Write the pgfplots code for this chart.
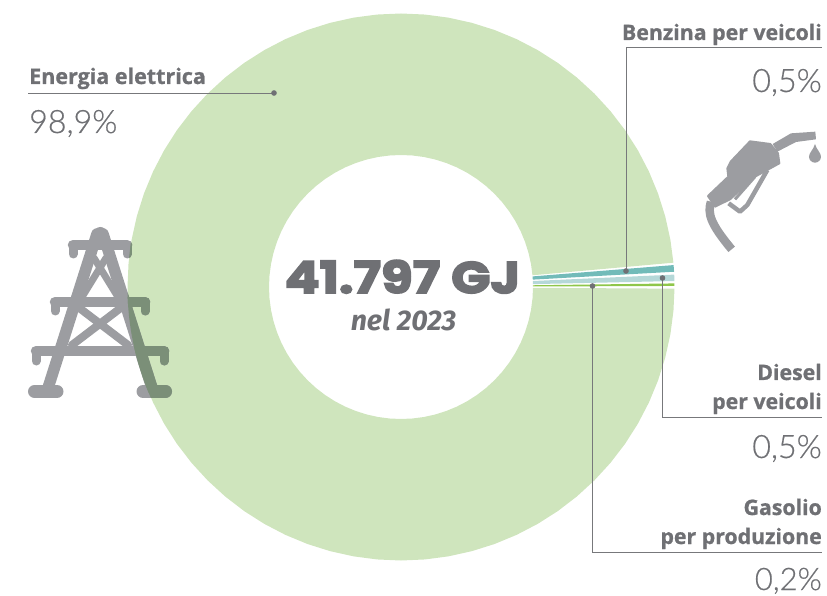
\documentclass[border=0pt]{standalone}
\usepackage{pgfplots}
\usepackage{fontspec}
\pgfplotsset{compat=1.18}
\setmainfont{Open Sans}
\newfontfamily\labf[FakeBold=0.9]{Open Sans}
\newfontfamily\heavy[FakeBold=4,FakeStretch=1.17]{Poppins}
\newfontfamily\nelf{Fira Sans}
\newfontfamily\lightf[UprightFont=* Light,FakeBold=0.5]{Lato}
\definecolor{txt}{HTML}{6F7074}
\definecolor{lin}{HTML}{77787B}
\definecolor{donut}{HTML}{CFE5BD}
\definecolor{teal}{HTML}{72BBB9}
\definecolor{pale}{HTML}{B5D8D8}
\definecolor{lime}{HTML}{8FC64A}
\definecolor{icon}{HTML}{9C9DA1}
\definecolor{iconov}{HTML}{7B8F78}
\newcommand{\towerpaths}[1]{%
  \begin{scope}[draw=#1,fill=#1,line cap=round,line join=round]
    \draw[line width=11.5pt] (97,234)--(48,388);
    \draw[line width=11.5pt] (103,234)--(152,388);
    \draw[line width=10.5pt] (73,245)--(127,245);
    \draw[line width=10.5pt] (55,302)--(145,302);
    \draw[line width=10.5pt] (36,351)--(164,351);
    \draw[line width=9pt] (73,245)--(73,254);
    \draw[line width=9pt] (127,245)--(127,254);
    \draw[line width=9pt] (55,302)--(55,311);
    \draw[line width=9pt] (145,302)--(145,311);
    \draw[line width=9pt] (36,351)--(36,361);
    \draw[line width=9pt] (164,351)--(164,361);
    \draw[line width=13pt] (34.500,391.5)--(57,391.5);
    \draw[line width=13pt] (143,391.5)--(165.500,391.5);
    \draw[line width=13pt] (100,233.5)--(100,234);
    \draw[line width=7pt] (94,258)--(118,297);
    \draw[line width=7pt] (106,258)--(82,297);
    \draw[line width=8pt] (78,307)--(128,345);
    \draw[line width=8pt] (122,307)--(72,345);
  \end{scope}}
\pgfplotsset{leader/.style={draw=lin,line width=0.9pt,mark=*,mark size=2.3pt,mark indices={1},mark options={fill=txt,draw=txt}}}
\begin{document}
\begin{tikzpicture}
\useasboundingbox (0,0) rectangle (827pt,595pt);
\begin{axis}[
  at={(0,0)},anchor=south west,
  scale only axis,width=827pt,height=595pt,
  xmin=-401,xmax=426,ymin=-308,ymax=287,
  hide axis,clip=false]
% main sector, energia elettrica (angle, radius)
\addplot[fill=donut,draw=none,data cs=polar] coordinates {
(5.1,273.5)(10,273.5)(15,273.5)(20,273.5)(25,273.5)(30,273.5)(35,273.5)(40,273.5)(45,273.5)(50,273.5)(55,273.5)(60,273.5)
(65,273.5)(70,273.5)(75,273.5)(80,273.5)(85,273.5)(90,273.5)(95,273.5)(100,273.5)(105,273.5)(110,273.5)(115,273.5)(120,273.5)
(125,273.5)(130,273.5)(135,273.5)(140,273.5)(145,273.5)(150,273.5)(155,273.5)(160,273.5)(165,273.5)(170,273.5)(175,273.5)(180,273.5)
(185,273.5)(190,273.5)(195,273.5)(200,273.5)(205,273.5)(210,273.5)(215,273.5)(220,273.5)(225,273.5)(230,273.5)(235,273.5)(240,273.5)
(245,273.5)(250,273.5)(255,273.5)(260,273.5)(265,273.5)(270,273.5)(275,273.5)(280,273.5)(285,273.5)(290,273.5)(295,273.5)(300,273.5)
(305,273.5)(310,273.5)(315,273.5)(320,273.5)(325,273.5)(330,273.5)(335,273.5)(340,273.5)(345,273.5)(350,273.5)(355,273.5)(359.65,273.5)
(359.65,132)(355,132)(350,132)(345,132)(340,132)(335,132)(330,132)(325,132)(320,132)(315,132)(310,132)(305,132)
(300,132)(295,132)(290,132)(285,132)(280,132)(275,132)(270,132)(265,132)(260,132)(255,132)(250,132)(245,132)
(240,132)(235,132)(230,132)(225,132)(220,132)(215,132)(210,132)(205,132)(200,132)(195,132)(190,132)(185,132)
(180,132)(175,132)(170,132)(165,132)(160,132)(155,132)(150,132)(145,132)(140,132)(135,132)(130,132)(125,132)
(120,132)(115,132)(110,132)(105,132)(100,132)(95,132)(90,132)(85,132)(80,132)(75,132)(70,132)(65,132)
(60,132)(55,132)(50,132)(45,132)(40,132)(35,132)(30,132)(25,132)(20,132)(15,132)(10,132)(5.1,132)
};
% small sectors
\addplot[fill=teal,draw=none,data cs=polar] coordinates {(3.2,132)(3.2,273.5)(4.6,273.5)(4.6,132)};
\addplot[fill=pale,draw=none,data cs=polar] coordinates {(1.25,132)(1.25,273.5)(2.6,273.5)(2.6,132)};
\addplot[fill=lime,draw=none,data cs=polar] coordinates {(0.22,132)(0.22,273.5)(0.75,273.5)(0.75,132)};
\end{axis}
% pictorial icons and text, in reference pixels
\begin{scope}[shift={(0pt,595pt)},x=1pt,y=-1pt]
  \towerpaths{icon}
  \begin{scope}
    \clip (401,287) circle[radius=273.5];
    \towerpaths{iconov}
  \end{scope}
  \begin{scope}[shift={(690pt,-120pt)},x=0.3333pt,y=-0.3333pt,fill=icon,draw=icon]
    \fill (248,72)--(303,40)--(376,35)--(378,58)--(318,66)--(262,95)--cycle;
    \filldraw[line width=2pt,line join=round] (122,125)--(180,64)--(241,72)--(264,100)--(268,130)--(195,170)--(120,238)--(75,260)--(54,228)--(115,170)--(112,145)--cycle;
    \draw[line width=4.5pt,line join=round] (232,150)--(172,255)--(150,275)--(116,250);
    \draw[line width=3pt] (195,170)--(135,238);
    \draw[line width=8.5pt] (63,245) .. controls (52,280) and (60,310) .. (125,388);
    \fill (375,72) .. controls (380,90) and (393,98) .. (393,110) arc[start angle=0,end angle=180,radius=18] .. controls (357,98) and (370,90) .. (375,72)--cycle;
  \end{scope}
\end{scope}
\begin{axis}[
  at={(0,0)},anchor=south west,
  scale only axis,width=827pt,height=595pt,
  xmin=-401,xmax=426,ymin=-308,ymax=287,
  hide axis,clip=false]
\addplot[leader] coordinates {(-127,194)(-373,194)};
\addplot[leader] coordinates {(225,16)(225,240)(421,240)};
\addplot[leader] coordinates {(261.5,9)(261.5,-130)(421,-130)};
\addplot[leader] coordinates {(191.5,1)(191.5,-265)(421,-265)};
\end{axis}
\begin{scope}[shift={(0pt,595pt)},x=1pt,y=-1pt,text=txt]
  \node[anchor=base west,inner sep=0,font=\fontsize{21.5}{24}\labf\bfseries] at (29,84) {Energia elettrica};
  \node[anchor=base west,inner sep=0,font=\fontsize{32.2}{36}\lightf] at (29,133) {98,9\%};
  \node[anchor=base east,inner sep=0,font=\fontsize{21.3}{24}\labf\bfseries] at (822,40) {Benzina per veicoli};
  \node[anchor=base east,inner sep=0,font=\fontsize{32.2}{36}\lightf] at (822,92) {0,5\%};
  \node[anchor=base east,inner sep=0,font=\fontsize{21.3}{24}\labf\bfseries] at (822,380) {Diesel};
  \node[anchor=base east,inner sep=0,font=\fontsize{21.3}{24}\labf\bfseries] at (822,409) {per veicoli};
  \node[anchor=base east,inner sep=0,font=\fontsize{32.2}{36}\lightf] at (822,458) {0,5\%};
  \node[anchor=base east,inner sep=0,font=\fontsize{21.3}{24}\labf\bfseries] at (822,515) {Gasolio};
  \node[anchor=base east,inner sep=0,font=\fontsize{21.3}{24}\labf\bfseries] at (822,544) {per produzione};
  \node[anchor=base east,inner sep=0,font=\fontsize{31}{36}\lightf] at (822,590) {0,2\%};
  \node[anchor=base,inner sep=0,font=\fontsize{44}{50}\heavy\bfseries] at (402.5,293) {41.797 GJ};
  \node[anchor=base,inner sep=0,font=\fontsize{28.5}{32}\nelf\bfseries\itshape] at (403.500,330) {nel 2023};
\end{scope}
\end{tikzpicture}
\end{document}
